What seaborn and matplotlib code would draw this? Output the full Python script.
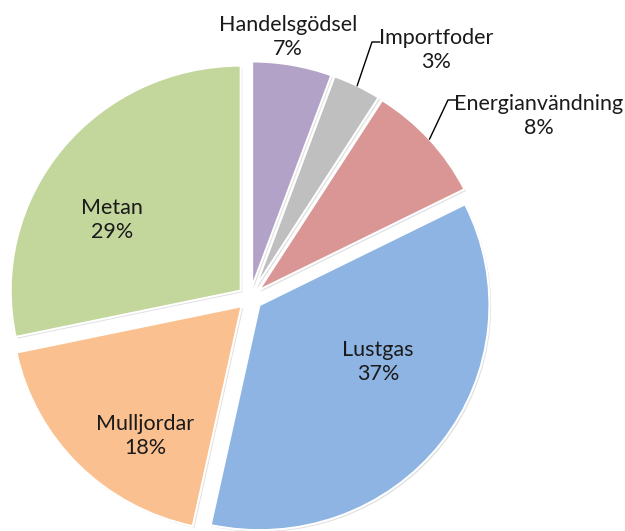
import numpy as np
import matplotlib
matplotlib.use("Agg")
import matplotlib.pyplot as plt
import matplotlib.patheffects as pe
import seaborn as sns

# Data -------------------------------------------------------------------
categories = ["Handelsgödsel", "Importfoder", "Energianvändning",
              "Lustgas", "Mulljordar", "Metan"]
shares = [5.6, 3.4, 8.6, 35.8, 18.3, 28.3]          # wedge sizes
pct_labels = ["7%", "3%", "8%", "37%", "18%", "29%"]  # labels as printed

colors = ["#B3A2C7", "#BFBFBF", "#D99694", "#8EB4E3", "#FAC090", "#C3D69B"]

# Layout (pixels of the 625x531 picture) -----------------------------------
W, H = 625, 531
CX, CY = 250, 298
RX, RY = 230, 225          # pie is very slightly squashed in the original
label_px = {
    "Handelsgödsel": (288, 37),
    "Importfoder": (436, 50),
    "Energianvändning": (539, 116),
    "Lustgas": (378, 362),
    "Mulljordar": (145, 436),
    "Metan": (112, 220),
}
leaders = {"Importfoder": (372, 42), "Energianvändning": (448, 100)}


def px(x, y):
    return (x - CX) / RX, (CY - y) / RY


sns.set_theme(style="white")
plt.rcParams["font.family"] = ["Lato", "DejaVu Sans"]

fig = plt.figure(figsize=(W / 100, H / 100), dpi=100)
ax = fig.add_axes([0, 0, 1, 1])

shadow = [pe.SimplePatchShadow(offset=(1.2, -1.2), shadow_rgbFace="#808080", alpha=0.25),
          pe.Normal()]
wedges, _ = ax.pie(
    shares, colors=colors, startangle=90, counterclock=False,
    explode=[0.052] * len(shares), radius=1,
    wedgeprops=dict(edgecolor="white", linewidth=1.5, path_effects=shadow),
)

for w, name, pct in zip(wedges, categories, pct_labels):
    tx, ty = px(*label_px[name])
    ax.text(tx, ty, f"{name}\n{pct}", ha="center", va="center", fontsize=15.5,
            color="#1a1a1a", linespacing=1.22)
    if name in leaders:
        mid = np.deg2rad((w.theta1 + w.theta2) / 2)
        cx, cy = w.center
        ex, ey = cx + w.r * np.cos(mid), cy + w.r * np.sin(mid)
        lx, ly = px(*leaders[name])
        ax.plot([ex, lx, lx + 8 / RX], [ey, ly, ly], color="black", lw=1)

ax.set_aspect("auto")
ax.set_xlim(-CX / RX, (W - CX) / RX)
ax.set_ylim(-(H - CY) / RY, CY / RY)
ax.set_axis_off()

fig.savefig("out.png", dpi=100)
